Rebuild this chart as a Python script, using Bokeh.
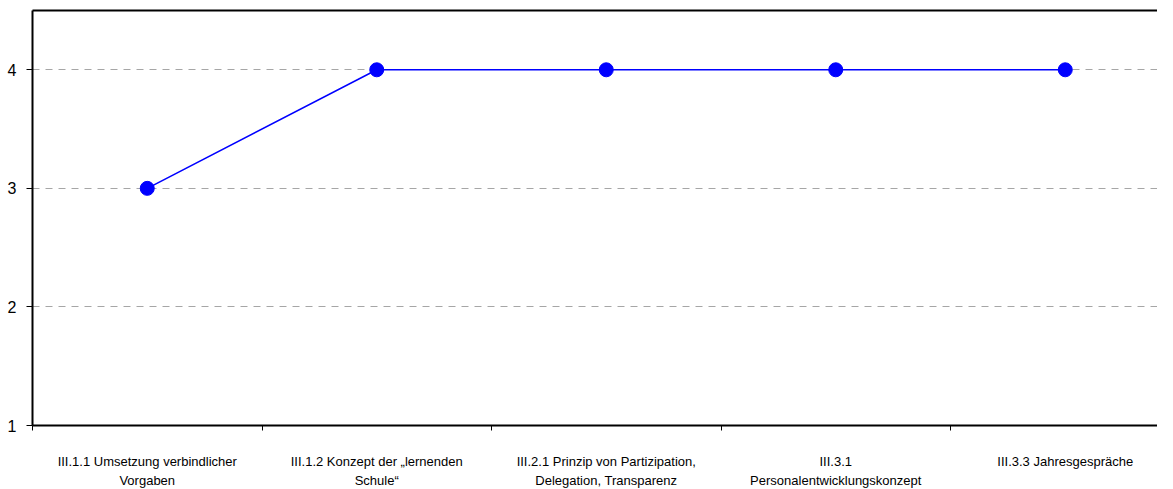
from bokeh.plotting import figure
from bokeh.models import FixedTicker, Range1d, LinearAxis, Grid
from bokeh.embed import file_html
from bokeh.resources import INLINE

categories = [
    "III.1.1 Umsetzung verbindlicher\nVorgaben",
    "III.1.2 Konzept der \u201elernenden\nSchule\u201c",
    "III.2.1 Prinzip von Partizipation,\nDelegation, Transparenz",
    "III.3.1\nPersonalentwicklungskonzept",
    "III.3.3 Jahresgespräche",
]
values = [3, 4, 4, 4, 4]
y_ticks = [1, 2, 3, 4]
grid_ticks = [2, 3, 4]

xs = [i + 0.5 for i in range(len(categories))]
boundaries = list(range(len(categories) + 1))

left = 32
frame_w = 1125
frame_h = 415
x_end = frame_w / 229.5

p = figure(frame_width=frame_w, frame_height=frame_h, output_backend="svg",
           toolbar_location=None,
           x_range=Range1d(0, x_end), y_range=Range1d(1, 4.5),
           min_border_left=left, min_border_right=0, min_border_top=10,
           min_border_bottom=10, x_axis_type=None, y_axis_type=None)
p.outline_line_color = None
p.background_fill_color = "white"
p.border_fill_color = "white"

# bottom axis
xa = LinearAxis(ticker=FixedTicker(ticks=xs, minor_ticks=boundaries))
xa.major_label_overrides = {x: c for x, c in zip(xs, categories)}
xa.major_tick_line_color = None
xa.minor_tick_in = 0
xa.minor_tick_out = 5
xa.minor_tick_line_color = "black"
xa.axis_line_color = "black"
xa.axis_line_width = 2
xa.major_label_standoff = 22
xa.major_label_text_font = "Liberation Sans"
xa.major_label_text_font_size = "13px"
xa.major_label_text_color = "black"
xa.major_label_text_line_height = 1.28
p.add_layout(xa, "below")

# left axis
ya = LinearAxis(ticker=FixedTicker(ticks=y_ticks))
ya.major_tick_in = 0
ya.major_tick_out = 6
ya.major_tick_line_color = "black"
ya.minor_tick_line_color = None
ya.axis_line_color = "black"
ya.axis_line_width = 2
ya.major_label_standoff = 10
ya.major_label_text_font = "Liberation Sans"
ya.major_label_text_font_size = "16px"
ya.major_label_text_color = "black"
p.add_layout(ya, "left")

# top border line
ta = LinearAxis(ticker=FixedTicker(ticks=[]))
ta.axis_line_color = "black"
ta.axis_line_width = 2
ta.major_tick_line_color = None
ta.minor_tick_line_color = None
ta.major_label_text_font_size = "0px"
p.add_layout(ta, "above")

p.add_layout(Grid(dimension=1, ticker=FixedTicker(ticks=grid_ticks),
                  grid_line_color="#a6a6a6", grid_line_dash="7 6",
                  grid_line_width=1))

p.line(xs, values, line_color="#0000ff", line_width=1.5)
p.scatter(xs, values, size=14, fill_color="#0000ff", line_color="#0000ff")

open("out.html", "w").write(file_html(p, INLINE))
